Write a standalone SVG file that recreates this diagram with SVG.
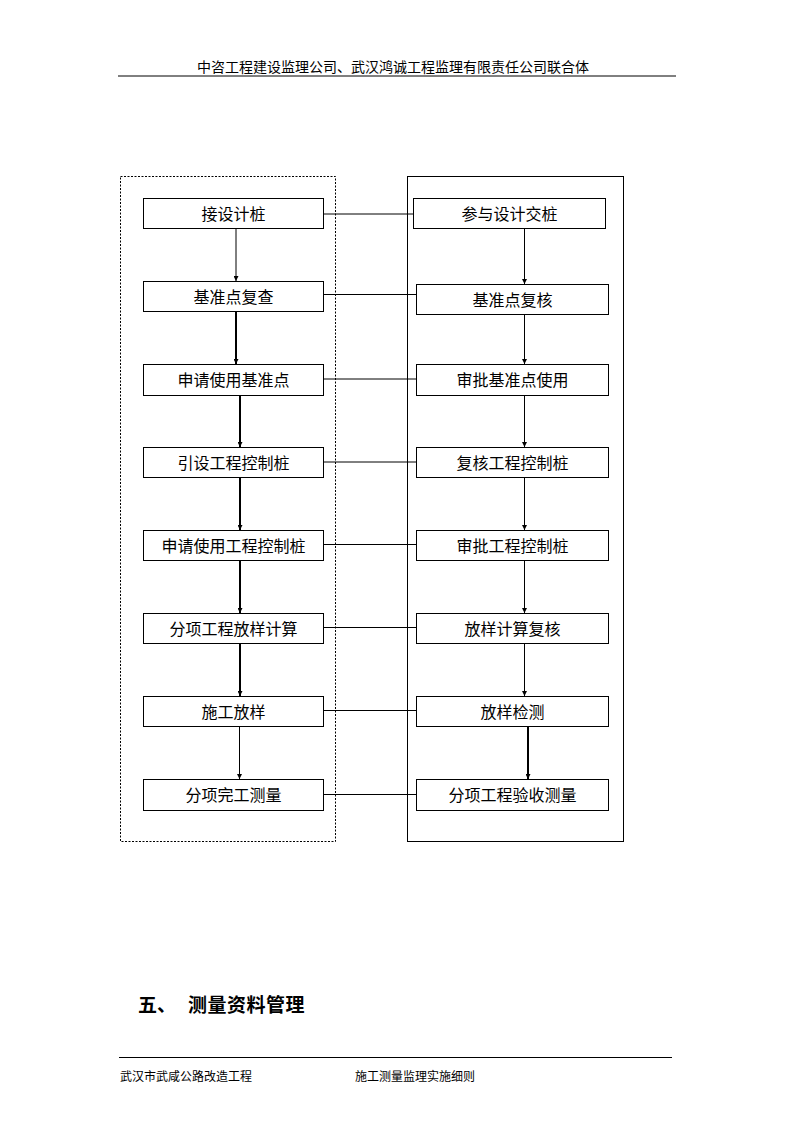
<svg xmlns="http://www.w3.org/2000/svg" width="794" height="1123" viewBox="0 0 794 1123">
<defs>
<style>
.box{fill:#fff;stroke:#000;stroke-width:1}
.t{font-family:"Noto Sans CJK SC","Liberation Sans",sans-serif;font-size:16px;fill:#000;text-anchor:middle}
.thin{stroke:#000;stroke-width:1;fill:none}
.thick{stroke:#000;stroke-width:2;fill:none}
.hdr{font-family:"Noto Sans CJK SC","Liberation Sans",sans-serif;fill:#000}
</style>
<marker id="ah" viewBox="0 0 6 6" refX="6" refY="3" markerWidth="5" markerHeight="5" markerUnits="userSpaceOnUse" orient="auto">
<path d="M0,0 L6,3 L0,6 z" fill="#000"/>
</marker>
</defs>
<rect width="794" height="1123" fill="#fff"/>
<!-- header -->
<text class="hdr" x="393" y="72" font-size="14" text-anchor="middle">中咨工程建设监理公司、武汉鸿诚工程监理有限责任公司联合体</text>
<line x1="118" y1="76" x2="676" y2="76" stroke="#000" stroke-width="1"/>
<!-- containers -->
<rect id="left-group" x="120.5" y="176.5" width="215" height="665" fill="none" stroke="#000" stroke-width="1" stroke-dasharray="2 1.5"/>
<rect id="right-group" x="407.5" y="176.5" width="216" height="665" fill="none" stroke="#000" stroke-width="1"/>
<!-- connectors -->
<g id="connectors">
<line class="thin" x1="323.5" y1="214" x2="413.5" y2="214"/>
<line class="thin" x1="323.5" y1="294.5" x2="416.5" y2="294.5"/>
<line class="thin" x1="323.5" y1="379" x2="416.5" y2="379"/>
<line class="thin" x1="323.5" y1="462" x2="416.5" y2="462"/>
<line class="thin" x1="323.5" y1="544.5" x2="416.5" y2="544.5"/>
<line class="thin" x1="323.5" y1="627.5" x2="416.5" y2="627.5"/>
<line class="thin" x1="323.5" y1="710.5" x2="416.5" y2="710.5"/>
<line class="thin" x1="323.5" y1="794.5" x2="416.5" y2="794.5"/>
<line class="thin" x1="236" y1="229" x2="236" y2="281" marker-end="url(#ah)"/>
<line class="thick" x1="236" y1="312" x2="236" y2="364" marker-end="url(#ah)"/>
<line class="thick" x1="240" y1="396" x2="240" y2="447" marker-end="url(#ah)"/>
<line class="thick" x1="240" y1="478" x2="240" y2="530" marker-end="url(#ah)"/>
<line class="thick" x1="240" y1="561" x2="240" y2="613" marker-end="url(#ah)"/>
<line class="thick" x1="240" y1="644" x2="240" y2="696" marker-end="url(#ah)"/>
<line class="thin" x1="239.5" y1="727" x2="239.5" y2="779" marker-end="url(#ah)"/>
<line class="thin" x1="524.5" y1="229" x2="524.5" y2="284" marker-end="url(#ah)"/>
<line class="thin" x1="524.5" y1="314" x2="524.5" y2="364" marker-end="url(#ah)"/>
<line class="thin" x1="524.5" y1="396" x2="524.5" y2="447" marker-end="url(#ah)"/>
<line class="thin" x1="524.5" y1="478" x2="524.5" y2="530" marker-end="url(#ah)"/>
<line class="thin" x1="524.5" y1="561" x2="524.5" y2="613" marker-end="url(#ah)"/>
<line class="thin" x1="524.5" y1="644" x2="524.5" y2="696" marker-end="url(#ah)"/>
<line class="thick" x1="528" y1="727" x2="528" y2="779" marker-end="url(#ah)"/>
</g>
<!-- left nodes -->
<g id="n-l1"><rect class="box" x="143.5" y="198.5" width="180" height="30"/><text class="t" x="233.5" y="219.5">接设计桩</text></g>
<g id="n-l2"><rect class="box" x="143.5" y="281.5" width="180" height="30"/><text class="t" x="233.5" y="302.5">基准点复查</text></g>
<g id="n-l3"><rect class="box" x="143.5" y="364.5" width="180" height="31"/><text class="t" x="233.5" y="386">申请使用基准点</text></g>
<g id="n-l4"><rect class="box" x="143.5" y="447.5" width="180" height="30"/><text class="t" x="233.5" y="468.5">引设工程控制桩</text></g>
<g id="n-l5"><rect class="box" x="143.5" y="530.5" width="180" height="30"/><text class="t" x="233.5" y="551.5">申请使用工程控制桩</text></g>
<g id="n-l6"><rect class="box" x="143.5" y="613.5" width="180" height="30"/><text class="t" x="233.5" y="634.5">分项工程放样计算</text></g>
<g id="n-l7"><rect class="box" x="143.5" y="696.5" width="180" height="30"/><text class="t" x="233.5" y="717.5">施工放样</text></g>
<g id="n-l8"><rect class="box" x="143.5" y="779.5" width="180" height="31"/><text class="t" x="233.5" y="801">分项完工测量</text></g>
<!-- right nodes -->
<g id="n-r1"><rect class="box" x="413.5" y="198.5" width="192" height="30"/><text class="t" x="509.5" y="219.5">参与设计交桩</text></g>
<g id="n-r2"><rect class="box" x="416.5" y="284.5" width="192" height="30"/><text class="t" x="512.5" y="305.5">基准点复核</text></g>
<g id="n-r3"><rect class="box" x="416.5" y="364.5" width="192" height="31"/><text class="t" x="512.5" y="386">审批基准点使用</text></g>
<g id="n-r4"><rect class="box" x="416.5" y="447.5" width="192" height="30"/><text class="t" x="512.5" y="468.5">复核工程控制桩</text></g>
<g id="n-r5"><rect class="box" x="416.5" y="530.5" width="192" height="30"/><text class="t" x="512.5" y="551.5">审批工程控制桩</text></g>
<g id="n-r6"><rect class="box" x="416.5" y="613.5" width="192" height="30"/><text class="t" x="512.5" y="634.5">放样计算复核</text></g>
<g id="n-r7"><rect class="box" x="416.5" y="696.5" width="192" height="30"/><text class="t" x="512.5" y="717.5">放样检测</text></g>
<g id="n-r8"><rect class="box" x="416.5" y="779.5" width="192" height="31"/><text class="t" x="512.5" y="801">分项工程验收测量</text></g>
<!-- section heading -->
<text class="hdr" x="138" y="1012" font-size="19" font-weight="bold">五、</text>
<text class="hdr" x="188" y="1012" font-size="19" font-weight="bold" letter-spacing="0.5">测量资料管理</text>
<!-- footer -->
<line x1="119" y1="1057.5" x2="672" y2="1057.5" stroke="#000" stroke-width="1"/>
<text class="hdr" x="120" y="1081" font-size="12">武汉市武咸公路改造工程</text>
<text class="hdr" x="355" y="1081" font-size="12">施工测量监理实施细则</text>
</svg>
